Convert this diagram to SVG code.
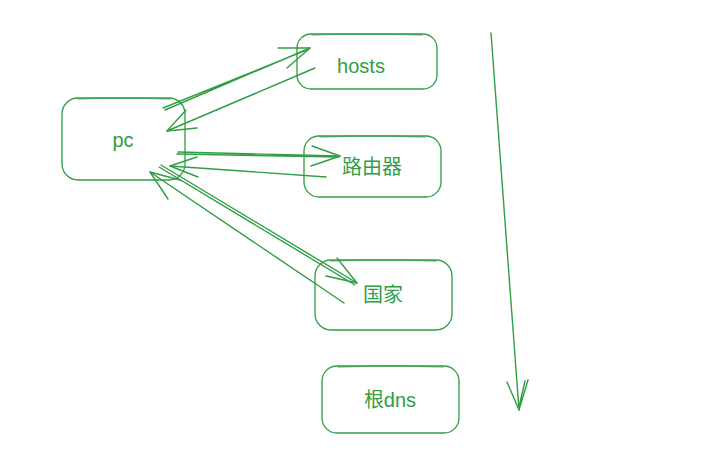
<svg xmlns="http://www.w3.org/2000/svg" width="709" height="454" viewBox="0 0 709 454">
<style>
.b{fill:none;stroke:#2f9e44;stroke-width:1.3;stroke-linecap:round;stroke-linejoin:round}
.c{fill:none;stroke:#2f9e44;stroke-width:1.4;stroke-linecap:round;stroke-linejoin:round}
.t{fill:#2f9e44;font-family:"Liberation Sans","Noto Sans CJK SC",sans-serif;font-size:20px;text-anchor:middle}
</style>
<rect width="709" height="454" fill="#ffffff"/>
<g id="pc">
<rect class="b" x="62" y="98" width="123" height="82" rx="16"/>
<path class="b" d="M78 99 Q120 97 170 99" opacity="0.6"/>
<text class="t" x="123" y="147">pc</text>
</g>
<g id="hosts">
<rect class="b" x="297" y="34" width="140" height="55" rx="14"/>
<path class="b" d="M312 35 Q360 33 422 35" opacity="0.6"/>
<text class="t" x="361" y="73">hosts</text>
</g>
<g id="router">
<rect class="b" x="304" y="136" width="137" height="61" rx="15"/>
<path class="b" d="M320 137 Q370 135 425 137" opacity="0.6"/>
<text class="t" x="372" y="174">路由器</text>
</g>
<g id="country">
<rect class="b" x="315" y="260" width="137" height="70" rx="16"/>
<path class="b" d="M331 261 Q380 259 436 261" opacity="0.6"/>
<text class="t" x="383" y="302">国家</text>
</g>
<g id="rootdns">
<rect class="b" x="322" y="366" width="137" height="67" rx="15"/>
<path class="b" d="M338 367 Q390 365 443 367" opacity="0.6"/>
<text class="t" x="390" y="407">根dns</text>
</g>
<g id="connectors">
<path class="c" d="M165 110 L310 48 M163 108 L309 49"/>
<path class="c" d="M278 48 L310 48 L287 68"/>
<path class="c" d="M315 68 L167 131"/>
<path class="c" d="M186 110 L167 131 L197 128"/>
<path class="c" d="M178 152 L340 156 M177 154 L339 157"/>
<path class="c" d="M312 146 L340 156 L311 166"/>
<path class="c" d="M326 177 L170 166"/>
<path class="c" d="M197 157 L170 166 L198 177"/>
<path class="c" d="M161 165 L357 283 M159 167 L355 285" stroke-width="1"/>
<path class="c" d="M337 258 L357 283 L326 276"/>
<path class="c" d="M344 303 L150 172"/>
<path class="c" d="M168 199 L150 172 L180 180"/>
<path class="c" d="M491 33 L519 410" stroke-width="1.5"/>
<path class="c" d="M507 382 L519 410 L528 380 M525 381 L519 407"/>
</g>
</svg>
